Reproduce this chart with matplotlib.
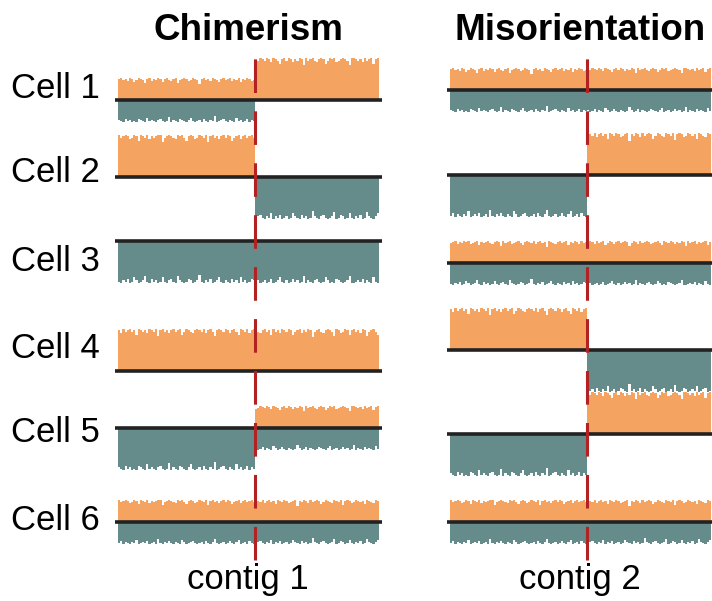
import matplotlib.pyplot as plt
import numpy as np

# strand-seq style read counts: W = watson (up, orange), C = crick (down, teal)
cells = ["Cell 1", "Cell 2", "Cell 3", "Cell 4", "Cell 5", "Cell 6"]
titles = ["Chimerism", "Misorientation"]
contigs = ["contig 1", "contig 2"]

# state of each cell on the left / right part of the contig
chim_left = ["WC", "WW", "CC", "WW", "CC", "WC"]
chim_right = ["WW", "CC", "CC", "WW", "WC", "WC"]
mis_left = ["WC", "CC", "WC", "WW", "CC", "WC"]
mis_right = ["WC", "WW", "WC", "CC", "WW", "WC"]

n_bins = 120
split = 63  # bin where the red dashed line sits

# max read depth for one strand in each state
depth = {"WW": (42, 0), "CC": (0, 42), "WC": (22, 22)}

# dips below the max depth
dips = [
    [1,0,2,1,3,0,1,4, 2,0,1,2,5,1,0,3, 1,2,0,1,4,1,0,2, 3,1,0,5,2,1,0,1,
     3,2,0,1,2,6,1,0, 2,1,3,0,1,2,4,1, 0,2,1,0,3,1,2,0, 4,1,2,0,1,3,2,1],
    [0,2,1,0,1,3,2,0, 1,4,0,1,2,0,3,1, 2,1,0,0,5,2,1,0, 1,2,3,0,1,0,2,4,
     1,0,1,3,2,0,1,2, 0,5,1,0,2,1,3,1, 0,2,0,1,4,2,1,0, 3,1,0,2,1,0,2,3],
    [2,1,0,3,1,2,0,1, 0,3,2,1,0,4,1,2, 1,0,2,3,1,0,1,5, 0,2,1,0,3,2,1,0,
     2,4,1,0,1,2,0,3, 1,0,2,1,6,0,1,2, 3,1,0,2,1,0,4,1, 2,0,1,3,0,2,1,0],
    [1,3,0,2,1,0,2,1, 4,0,1,2,1,3,0,1, 2,0,5,1,0,2,1,3, 1,0,2,1,0,4,2,0,
     1,2,3,1,0,1,2,0, 3,1,0,2,5,1,0,1, 2,0,1,3,1,0,2,4, 0,1,2,0,3,1,0,2],
]

# pixel rows of the baselines in each column
base_left = [100, 177, 241, 371, 428, 522]
base_right = [90, 175, 263, 350, 434, 522]

orange = "#F4A460"
teal = "#668B8B"
red = "#B22222"
dark = "#222222"

W, H = 712, 601
fig = plt.figure(figsize=(W / 100, H / 100), dpi=100)
plt.rcParams["font.family"] = ["Liberation Sans", "DejaVu Sans"]


def strand(states_l, states_r, i, s):
    lvl_l = depth[states_l[i]][s]
    lvl_r = depth[states_r[i]][s]
    d_l = np.array(dips[(i + 2 * s) % 4][:split], float)
    d_r = np.array(dips[(i + 2 * s + 1) % 4][::-1][:n_bins - split], float)
    left = np.where(lvl_l > 0, lvl_l - d_l * (lvl_l / 42 + 0.4), 0)
    right = np.where(lvl_r > 0, lvl_r - d_r * (lvl_r / 42 + 0.4), 0)
    return np.concatenate([left, right])


columns = [(115, chim_left, chim_right, base_left),
           (447, mis_left, mis_right, base_right)]
x = np.arange(n_bins)
for x0, sl, sr, bases in columns:
    ax = fig.add_axes([x0 / W, 0, 267 / W, 1])
    ax.set_xlim(-1.9, n_bins + 0.9)
    ax.set_ylim(0, H)
    ax.axis("off")
    for i in range(len(cells)):
        b = H - bases[i]
        w = strand(sl, sr, i, 0)
        c = strand(sl, sr, i, 1)
        ax.bar(x, w, bottom=b, width=1.0, color=orange, linewidth=0, zorder=2)
        ax.bar(x, -c, bottom=b, width=1.0, color=teal, linewidth=0, zorder=2)
        ax.hlines(b, -1.9, n_bins + 0.9, color=dark, lw=2.6, zorder=3)
    ax.plot([split - 0.5, split - 0.5], [H - 560, H - 42], color=red, lw=2.2,
            linestyle=(0, (11, 6)), zorder=4)

for t, cx in zip(titles, [248, 580]):
    fig.text(cx / W, 1 - 31 / H, t, ha="center", va="center",
             fontsize=26.5, fontweight="bold")
for t, cx in zip(contigs, [248, 580]):
    fig.text(cx / W, 1 - 579 / H, t, ha="center", va="center", fontsize=25)
for t, y in zip(cells, base_right):
    fig.text(11 / W, 1 - (y - 2) / H, t, ha="left", va="center", fontsize=25)

fig.savefig("out.png", dpi=100)
